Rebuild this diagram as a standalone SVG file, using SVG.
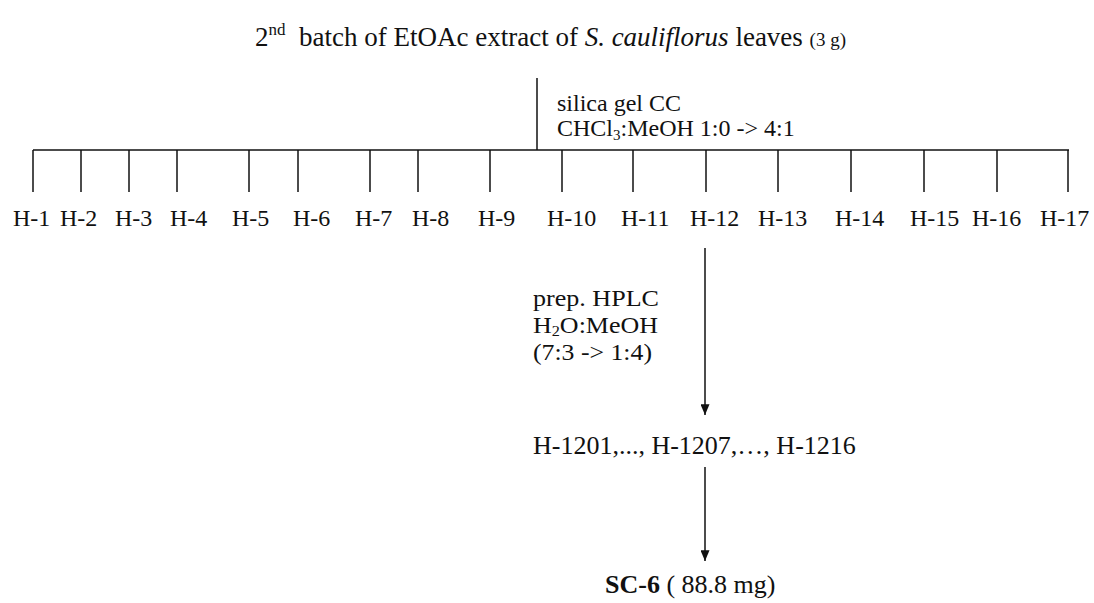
<svg xmlns="http://www.w3.org/2000/svg" width="1094" height="603" viewBox="0 0 1094 603">
<style>
text{font-family:"Liberation Serif","Times New Roman",serif;fill:#111}
.t{font-size:27px}
.c{font-size:24px}
.m{font-size:26px}
.h{font-size:24px}
.s{font-size:24px}
line{stroke:#111;stroke-width:1.5;fill:none}
</style>
<defs>
<marker id="ah" viewBox="0 0 12 10" refX="12" refY="5" markerWidth="12" markerHeight="9" markerUnits="userSpaceOnUse" orient="auto">
<path d="M0,0 L12,5 L0,10 Z" fill="#111"/>
</marker>
</defs>
<rect width="1094" height="603" fill="#fff"/>
<g id="title">
<text class="t" x="255" y="46" xml:space="preserve">2<tspan font-size="17" dy="-11">nd</tspan><tspan dy="11">  batch of EtOAc extract of </tspan><tspan font-style="italic">S. cauliflorus</tspan> leaves <tspan font-size="19">(3 g)</tspan></text>
</g>
<g id="silica-label">
<text class="c" x="557" y="111">silica gel CC</text>
<text class="c" x="557" y="136">CHCl<tspan font-size="15" dy="4">3</tspan><tspan dy="-4">:MeOH 1:0 -&gt; 4:1</tspan></text>
</g>
<g id="fractions">
<text class="s" x="13" y="226">H-1</text>
<text class="s" x="60" y="226">H-2</text>
<text class="s" x="115" y="226">H-3</text>
<text class="s" x="170" y="226">H-4</text>
<text class="s" x="232" y="226">H-5</text>
<text class="s" x="293" y="226">H-6</text>
<text class="s" x="355" y="226">H-7</text>
<text class="s" x="412" y="226">H-8</text>
<text class="s" x="478" y="226">H-9</text>
<text class="s" x="547" y="226">H-10</text>
<text class="s" x="621" y="226">H-11</text>
<text class="s" x="690" y="226">H-12</text>
<text class="s" x="758" y="226">H-13</text>
<text class="s" x="835" y="226">H-14</text>
<text class="s" x="910" y="226">H-15</text>
<text class="s" x="972" y="226">H-16</text>
<text class="s" x="1040" y="226">H-17</text>
</g>
<g id="hplc-label">
<text class="h" x="533" y="306" textLength="126" lengthAdjust="spacingAndGlyphs">prep. HPLC</text>
<text class="h" x="533" y="333" textLength="125" lengthAdjust="spacingAndGlyphs">H<tspan font-size="15" dy="3">2</tspan><tspan dy="-3">O:MeOH</tspan></text>
<text class="h" x="533" y="360" textLength="119" lengthAdjust="spacingAndGlyphs">(7:3 -&gt; 1:4)</text>
</g>
<g id="subfractions">
<text class="m" x="533" y="454">H-1201,..., H-1207,…, H-1216</text>
</g>
<g id="product">
<text class="m" x="605" y="593"><tspan font-weight="bold">SC-6</tspan> ( 88.8 mg)</text>
</g>
<g id="connectors">
<line x1="537" y1="78" x2="537" y2="150"/>
<line x1="33" y1="150" x2="1069" y2="150"/>
<line x1="33" y1="150" x2="33" y2="192"/>
<line x1="81" y1="150" x2="81" y2="192"/>
<line x1="129" y1="150" x2="129" y2="192"/>
<line x1="177" y1="150" x2="177" y2="192"/>
<line x1="249" y1="150" x2="249" y2="192"/>
<line x1="298" y1="150" x2="298" y2="192"/>
<line x1="370" y1="150" x2="370" y2="192"/>
<line x1="418" y1="150" x2="418" y2="192"/>
<line x1="490" y1="150" x2="490" y2="192"/>
<line x1="562" y1="150" x2="562" y2="192"/>
<line x1="633" y1="150" x2="633" y2="192"/>
<line x1="706" y1="150" x2="706" y2="192"/>
<line x1="778" y1="150" x2="778" y2="192"/>
<line x1="851" y1="150" x2="851" y2="192"/>
<line x1="924" y1="150" x2="924" y2="192"/>
<line x1="997" y1="150" x2="997" y2="192"/>
<line x1="1068" y1="150" x2="1068" y2="192"/>
<line x1="705" y1="248" x2="705" y2="415" marker-end="url(#ah)"/>
<line x1="705" y1="467" x2="705" y2="561" marker-end="url(#ah)"/>
</g>
</svg>
